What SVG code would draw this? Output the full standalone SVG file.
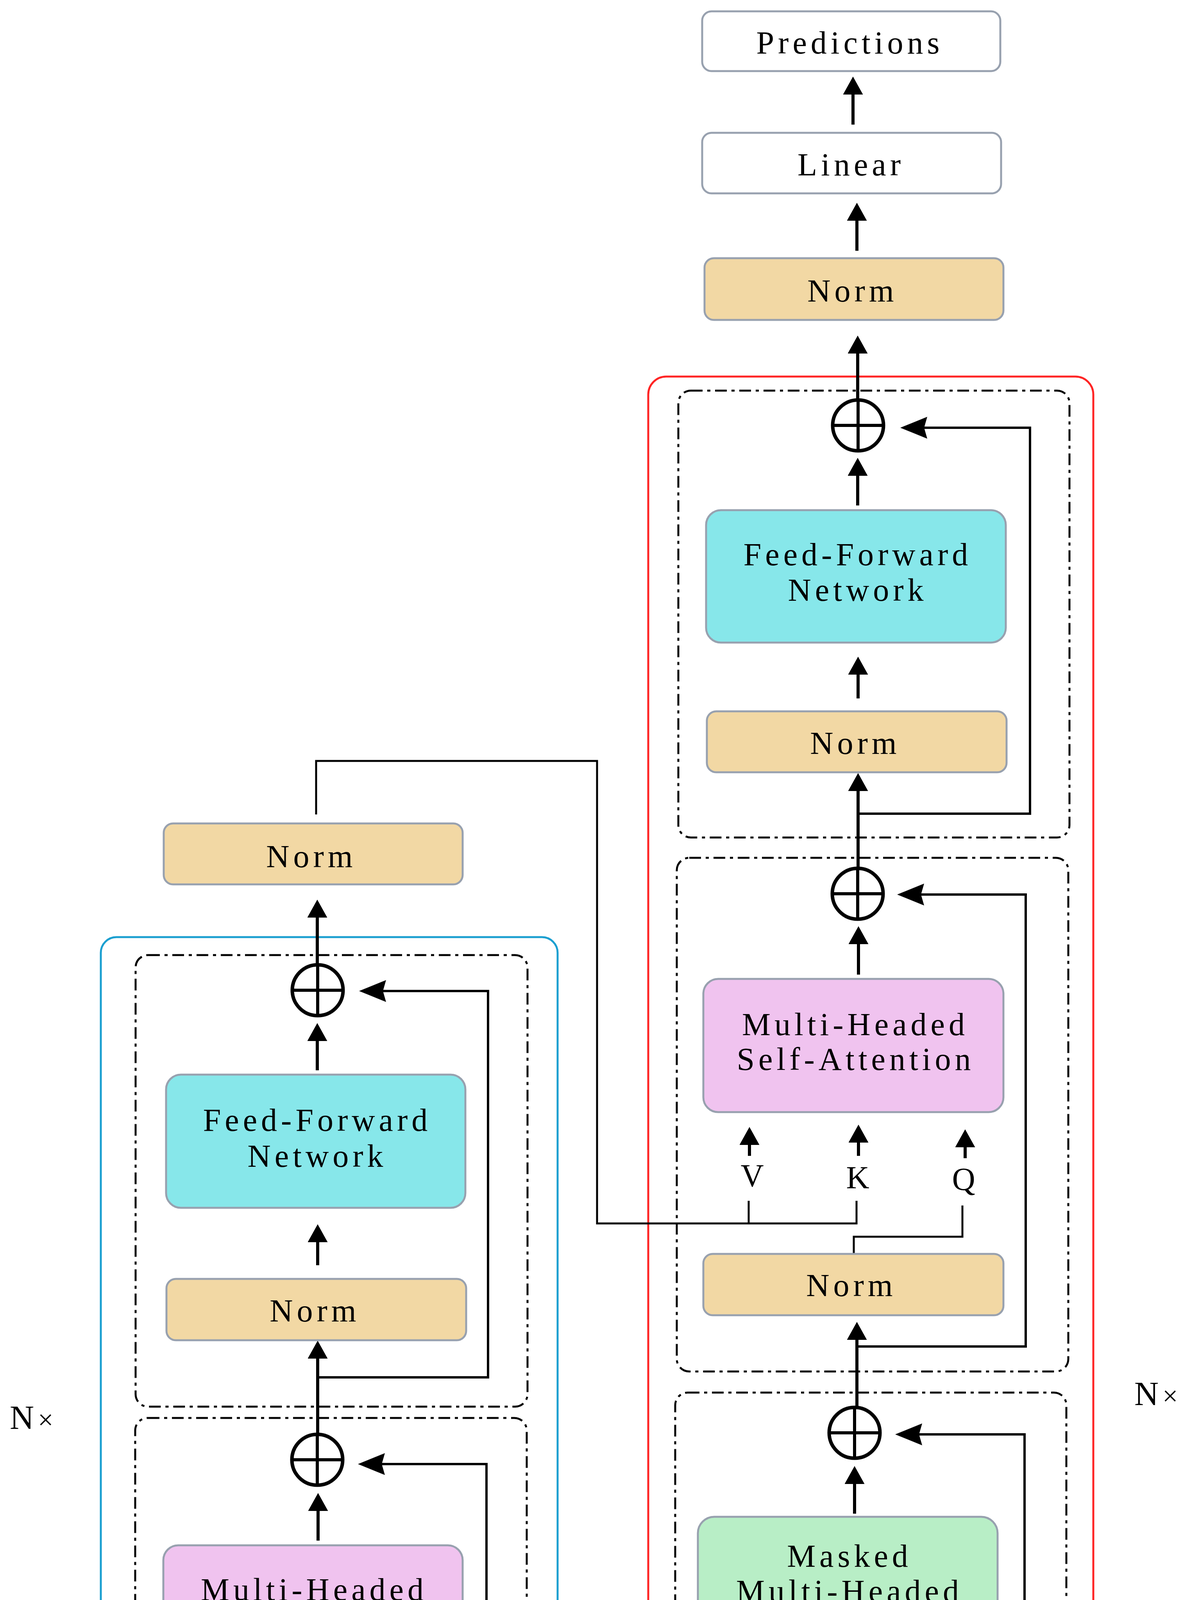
<svg xmlns="http://www.w3.org/2000/svg" width="3048" height="5672" viewBox="0 0 3048 5672">
<defs>
<style>
.box{stroke:#98A1AF;stroke-width:5}
.io{fill:#FFFFFF}
.norm{fill:#F2D8A4}
.ffn{fill:#87E7EA}
.mhsa{fill:#F0C3EF}
.mask{fill:#B8EEC6}
.t{font-family:"Liberation Serif","Times New Roman",serif;font-size:82px;letter-spacing:10px;text-anchor:middle;fill:#000}
.q{font-family:"Liberation Serif","Times New Roman",serif;font-size:82px;text-anchor:middle;fill:#000}
.nx{font-family:"Liberation Serif","Times New Roman",serif;font-size:86px;fill:#000}
.dash{fill:none;stroke:#000;stroke-width:5;stroke-dasharray:30 12 8 12}
.main{fill:none;stroke:#000;stroke-width:8}
.fb{fill:none;stroke:#000;stroke-width:6}
.thin{fill:none;stroke:#000;stroke-width:5}
.add circle{fill:#FFFFFF;stroke:#000;stroke-width:9}
.add path{fill:none;stroke:#000;stroke-width:8}
</style>
<marker id="ah" markerUnits="userSpaceOnUse" viewBox="0 0 46 51" markerWidth="46" markerHeight="51" refX="0" refY="25.5" orient="auto">
<path d="M0,0 L46,25.5 L0,51 Z" fill="#000"/>
</marker>
<marker id="af" markerUnits="userSpaceOnUse" viewBox="0 0 69 56" markerWidth="69" markerHeight="56" refX="8" refY="28" orient="auto">
<path d="M0,0 L69,28 L0,56 L8,28 Z" fill="#000"/>
</marker>
</defs>
<rect width="3048" height="5672" fill="#FFFFFF"/>

<g id="containers">
<rect id="encoder-stack" x="258" y="2399" width="1169" height="2676" rx="40" fill="none" stroke="#1B9FD0" stroke-width="5"/>
<rect id="decoder-stack" x="1659" y="964" width="1139" height="4118" rx="46" fill="none" stroke="#FF2424" stroke-width="5"/>
<rect id="enc-ffn-block" class="dash" x="347" y="2445" width="1003" height="1156" rx="32"/>
<rect id="enc-att-block" class="dash" x="346" y="3630" width="1002" height="1414" rx="32"/>
<rect id="dec-ffn-block" class="dash" x="1736" y="1000" width="1001" height="1144" rx="32"/>
<rect id="dec-att-block" class="dash" x="1732" y="2196" width="1002" height="1315" rx="32"/>
<rect id="dec-mask-block" class="dash" x="1728" y="3565" width="1001" height="1479" rx="32"/>
<text id="enc-n" class="nx" x="25" y="3658">N<tspan font-size="70" dx="10">×</tspan></text>
<text id="dec-n" class="nx" x="2903" y="3597">N<tspan font-size="70" dx="10">×</tspan></text>
</g>

<g id="connectors">
<path class="main" d="M2183,319 V242" marker-end="url(#ah)"/>
<path class="main" d="M2193,642 V565" marker-end="url(#ah)"/>
<path class="main" d="M2195,1024 V905" marker-end="url(#ah)"/>
<path class="main" d="M2195,1294 V1218" marker-end="url(#ah)"/>
<path class="main" d="M2196,1788 V1727" marker-end="url(#ah)"/>
<path class="main" d="M2196,2223 V2025" marker-end="url(#ah)"/>
<path class="fb" d="M2196,2083 H2636 V1095 H2365" marker-end="url(#af)"/>
<path class="main" d="M2197,2495 V2417" marker-end="url(#ah)"/>
<path class="main" d="M1918,2959 V2931" marker-end="url(#ah)"/>
<path class="main" d="M2197,2959 V2925" marker-end="url(#ah)"/>
<path class="main" d="M2470,2965 V2937" marker-end="url(#ah)"/>
<path class="thin" d="M809,2085 V1948 H1528 V3132 H2192 V3074"/>
<path class="thin" d="M1916,3132 V3074"/>
<path class="thin" d="M2185,3210 V3166 H2463 V3086"/>
<path class="main" d="M2193,3603 V3430" marker-end="url(#ah)"/>
<path class="fb" d="M2193,3447 H2625 V2290 H2357" marker-end="url(#af)"/>
<path class="main" d="M2187,3875 V3799" marker-end="url(#ah)"/>
<path class="main" d="M1908,4426 V4395" marker-end="url(#ah)"/>
<path class="main" d="M2188,4426 V4393" marker-end="url(#ah)"/>
<path class="main" d="M2461,4432 V4403" marker-end="url(#ah)"/>
<path class="thin" d="M1922,4537 C1922,4558 1936,4570 1966,4570 H2144 C2170,4570 2186,4585 2186,4602 C2186,4585 2202,4570 2228,4570 H2406 C2436,4570 2450,4558 2450,4537"/>
<path class="main" d="M2186,4541 V4663"/>
<path class="main" d="M2182,5087 V4894" marker-end="url(#ah)"/>
<path class="fb" d="M2182,4955 H2622 V3672 H2352" marker-end="url(#af)"/>
<path class="main" d="M2181,5208 V5133" marker-end="url(#ah)"/>
<path class="main" d="M2180,5474 V5395" marker-end="url(#ah)"/>
<path class="main" d="M812,2470 V2349" marker-end="url(#ah)"/>
<path class="main" d="M812,2740 V2665" marker-end="url(#ah)"/>
<path class="main" d="M813,3239 V3180" marker-end="url(#ah)"/>
<path class="main" d="M813,3672 V3478" marker-end="url(#ah)"/>
<path class="fb" d="M813,3526 H1249 V2537 H980" marker-end="url(#af)"/>
<path class="main" d="M814,3944 V3868" marker-end="url(#ah)"/>
<path class="main" d="M533,4407 V4378" marker-end="url(#ah)"/>
<path class="main" d="M814,4407 V4375" marker-end="url(#ah)"/>
<path class="main" d="M1086,4415 V4384" marker-end="url(#ah)"/>
<path class="thin" d="M547,4522 C547,4542 560,4552 590,4552 H770 C795,4552 812,4568 812,4587 C812,4568 829,4552 854,4552 H1034 C1064,4552 1077,4542 1077,4522"/>
<path class="main" d="M812,4522 V4644"/>
<path class="main" d="M807,5079 V4876" marker-end="url(#ah)"/>
<path class="fb" d="M807,4934 H1245 V3748 H977" marker-end="url(#af)"/>
<path class="main" d="M809,5198 V5125" marker-end="url(#ah)"/>
<path class="main" d="M809,5455 V5381" marker-end="url(#ah)"/>
</g>

<g id="predictions"><rect class="box io" x="1797" y="29" width="763" height="153" rx="24"/><text class="t" x="2175" y="137">Predictions</text></g>
<g id="linear"><rect class="box io" x="1797" y="340" width="765" height="155" rx="24"/><text class="t" x="2178" y="449">Linear</text></g>
<g id="dec-norm-out"><rect class="box norm" x="1803" y="661" width="765" height="158" rx="24"/><text class="t" x="2182" y="772">Norm</text></g>

<g id="dec-add-1" class="add"><circle cx="2196" cy="1089" r="65"/><path d="M2131,1089 H2261 M2196,1024 V1154"/></g>
<g id="dec-ffn"><rect class="box ffn" x="1807" y="1306" width="767" height="339" rx="38"/><text class="t" x="2195" y="1447">Feed-Forward</text><text class="t" x="2195" y="1538">Network</text></g>
<g id="dec-norm-ffn"><rect class="box norm" x="1809" y="1821" width="767" height="156" rx="24"/><text class="t" x="2189" y="1930">Norm</text></g>

<g id="dec-add-2" class="add"><circle cx="2195" cy="2288" r="65"/><path d="M2130,2288 H2260 M2195,2223 V2353"/></g>
<g id="dec-mhsa"><rect class="box mhsa" x="1800" y="2506" width="768" height="341" rx="38"/><text class="t" x="2189" y="2650">Multi-Headed</text><text class="t" x="2190" y="2739">Self-Attention</text></g>
<g id="dec-v1"><text class="q" x="1925" y="3037">V</text></g>
<g id="dec-k1"><text class="q" x="2195" y="3042">K</text></g>
<g id="dec-q1"><text class="q" x="2466" y="3046">Q</text></g>
<g id="dec-norm-mhsa"><rect class="box norm" x="1800" y="3210" width="768" height="157" rx="24"/><text class="t" x="2179" y="3318">Norm</text></g>

<g id="dec-add-3" class="add"><circle cx="2187" cy="3668" r="65"/><path d="M2122,3668 H2252 M2187,3603 V3733"/></g>
<g id="dec-masked"><rect class="box mask" x="1786" y="3883" width="767" height="407" rx="42"/><text class="t" x="2174" y="4011">Masked</text><text class="t" x="2174" y="4101">Multi-Headed</text><text class="t" x="2175" y="4193">Self-Attention</text></g>
<g id="dec-v2"><text class="q" x="1914" y="4497">V</text></g>
<g id="dec-k2"><text class="q" x="2186" y="4506">K</text></g>
<g id="dec-q2"><text class="q" x="2457" y="4509">Q</text></g>
<g id="dec-norm-mask"><rect class="box norm" x="1792" y="4675" width="766" height="157" rx="24"/><text class="t" x="2172" y="4783">Norm</text></g>

<g id="dec-add-in" class="add"><circle cx="2180" cy="5273" r="65"/><path d="M2115,5273 H2245 M2180,5208 V5338"/></g>
<g id="label"><rect class="box io" x="1797" y="5492" width="765" height="157" rx="24"/><text class="t" x="2176" y="5602">Label</text></g>

<g id="enc-norm-out"><rect class="box norm" x="419" y="2108" width="765" height="156" rx="24"/><text class="t" x="797" y="2220">Norm</text></g>
<g id="enc-add-1" class="add"><circle cx="813" cy="2535" r="65"/><path d="M748,2535 H878 M813,2470 V2600"/></g>
<g id="enc-ffn"><rect class="box ffn" x="425" y="2751" width="766" height="341" rx="38"/><text class="t" x="812" y="2895">Feed-Forward</text><text class="t" x="812" y="2987">Network</text></g>
<g id="enc-norm-ffn"><rect class="box norm" x="426" y="3274" width="767" height="157" rx="24"/><text class="t" x="806" y="3383">Norm</text></g>

<g id="enc-add-2" class="add"><circle cx="812" cy="3737" r="65"/><path d="M747,3737 H877 M812,3672 V3802"/></g>
<g id="enc-mhsa"><rect class="box mhsa" x="418" y="3956" width="766" height="338" rx="38"/><text class="t" x="804" y="4097">Multi-Headed</text><text class="t" x="805" y="4187">Self-Attention</text></g>
<g id="enc-v"><text class="q" x="541" y="4482">V</text></g>
<g id="enc-k"><text class="q" x="811" y="4490">K</text></g>
<g id="enc-q"><text class="q" x="1084" y="4493">Q</text></g>
<g id="enc-norm-mhsa"><rect class="box norm" x="417" y="4656" width="767" height="158" rx="24"/><text class="t" x="793" y="4766">Norm</text></g>

<g id="enc-add-in" class="add"><circle cx="809" cy="5263" r="65"/><path d="M744,5263 H874 M809,5198 V5328"/></g>
<g id="input"><rect class="box io" x="386" y="5475" width="766" height="157" rx="24"/><text class="t" x="766" y="5584">Input</text></g>
</svg>
